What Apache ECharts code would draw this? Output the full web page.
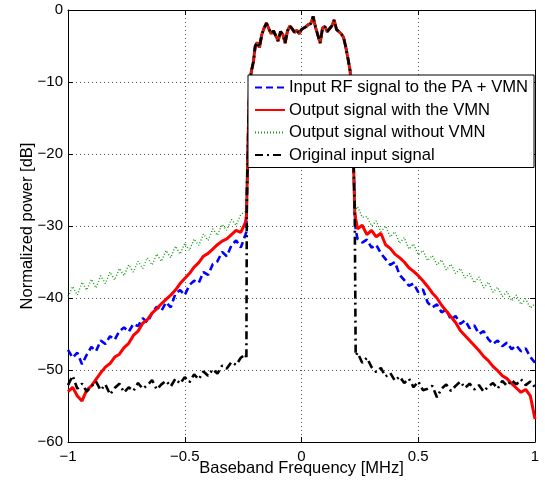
<!DOCTYPE html>
<html>
<head>
<meta charset="utf-8">
<script src="https://cdn.jsdelivr.net/npm/echarts@6/dist/echarts.min.js"></script>
<style>
html,body{margin:0;padding:0;background:#fff;}
#chart{width:545px;height:487px;}
</style>
</head>
<body>
<div id="chart"></div>
<script>
// Frequency grid (MHz)
var freqLeft = [-1.00,-0.98,-0.96,-0.94,-0.92,-0.90,-0.88,-0.86,-0.84,-0.82,-0.80,-0.78,-0.76,-0.74,-0.72,-0.70,-0.68,-0.66,-0.64,-0.62,-0.60,-0.58,-0.56,-0.54,-0.52,-0.50,-0.48,-0.46,-0.44,-0.42,-0.40,-0.38,-0.36,-0.34,-0.32,-0.30,-0.28,-0.26,-0.24,-0.236];
var freqIn = [-0.234,-0.228,-0.222,-0.214,-0.206,-0.198,-0.19,-0.18,-0.17,-0.16,-0.15,-0.14,-0.13,-0.12,-0.11,-0.10,-0.09,-0.08,-0.07,-0.06,-0.05,-0.04,-0.03,-0.02,-0.01,0.00,0.01,0.02,0.03,0.04,0.05,0.06,0.07,0.08,0.09,0.10,0.11,0.12,0.13,0.14,0.15,0.16,0.17,0.18,0.19,0.20,0.208,0.216,0.222,0.228];
var freqRight = [0.232,0.24,0.26,0.28,0.30,0.32,0.34,0.36,0.38,0.40,0.42,0.44,0.46,0.48,0.50,0.52,0.54,0.56,0.58,0.60,0.62,0.64,0.66,0.68,0.70,0.72,0.74,0.76,0.78,0.80,0.82,0.84,0.86,0.88,0.90,0.92,0.94,0.96,0.98,1.00];

// In-band spectrum (shared by all signals, dB)
var inBand = [-26,-17,-10,-8.4,-7.2,-5.0,-4.5,-5.2,-3.4,-2.5,-1.8,-2.6,-3.3,-2.9,-3.6,-4.3,-3.0,-3.4,-4.6,-2.9,-2.2,-2.6,-3.1,-2.8,-3.3,-2.7,-2.5,-2.3,-2.0,-1.9,-0.9,-2.4,-3.5,-4.6,-2.5,-2.3,-3.0,-2.6,-2.2,-1.4,-2.7,-3.0,-3.3,-3.8,-5.2,-6.9,-8.4,-12,-20,-28];

// Input RF signal to the PA + VMN
var blueLeft = [-47.2,-48.3,-47.6,-49.2,-47.9,-46.8,-47.4,-45.9,-46.4,-45.3,-45.8,-44.6,-44.1,-44.7,-43.6,-43.9,-42.8,-43.4,-42.1,-41.2,-41.8,-40.6,-41.3,-39.4,-38.9,-39.6,-38.2,-37.6,-37.9,-36.4,-36.8,-35.3,-34.9,-33.6,-34.2,-32.7,-32.0,-33.0,-31.2,-30.8];
var blueRight = [-30.5,-31.8,-32.3,-31.9,-33.0,-32.6,-33.8,-34.6,-35.4,-35.0,-36.8,-37.5,-38.3,-38.0,-39.2,-38.8,-40.6,-41.3,-40.9,-42.0,-41.6,-43.0,-42.5,-43.6,-43.1,-44.2,-43.8,-45.0,-44.6,-45.7,-46.4,-45.9,-46.7,-46.2,-47.1,-46.6,-47.4,-47.0,-48.2,-49.0];

// Output signal with the VMN
var redLeft = [-53.0,-52.4,-53.6,-54.3,-52.8,-52.2,-51.3,-50.4,-49.6,-49.1,-48.2,-47.8,-46.9,-46.3,-45.2,-44.6,-43.5,-43.0,-42.1,-41.5,-40.8,-40.2,-39.6,-38.9,-38.0,-37.3,-36.6,-35.7,-35.1,-34.2,-33.8,-33.2,-32.6,-32.1,-31.8,-31.2,-30.6,-30.9,-29.5,-28.6];
var redRight = [-29.0,-30.4,-29.9,-31.2,-30.6,-31.5,-31.0,-32.6,-33.1,-33.9,-34.4,-35.0,-35.8,-36.3,-36.9,-37.6,-38.4,-39.3,-40.0,-41.0,-41.8,-42.6,-43.4,-44.5,-45.2,-45.9,-46.6,-47.3,-48.1,-48.7,-49.5,-50.1,-50.8,-51.2,-51.9,-52.5,-53.1,-52.7,-53.6,-56.8];

// Output signal without VMN
var greenLeft = [-39.8,-38.4,-39.6,-37.8,-38.9,-37.4,-38.6,-36.9,-38.0,-36.4,-37.5,-35.9,-36.9,-35.4,-36.4,-34.9,-35.9,-34.4,-35.4,-33.9,-34.9,-33.4,-34.4,-32.8,-33.9,-32.4,-33.4,-31.8,-32.7,-31.1,-32.0,-30.4,-31.3,-29.8,-30.6,-29.1,-29.9,-28.4,-28.0,-28.3];
var greenRight = [-28.0,-27.3,-28.8,-28.7,-30.0,-29.3,-30.8,-30.0,-31.5,-30.8,-32.4,-31.6,-33.2,-32.5,-34.0,-33.4,-34.8,-34.1,-35.4,-34.7,-36.1,-35.3,-36.6,-35.9,-37.2,-36.6,-37.9,-37.1,-38.6,-37.8,-39.2,-38.5,-39.8,-39.1,-40.4,-39.6,-40.9,-40.1,-41.4,-40.8];

// Original input signal
var blackLeft = [-52.1,-50.8,-52.6,-51.9,-53.0,-52.3,-51.6,-52.8,-52.0,-53.4,-52.5,-51.9,-53.1,-52.4,-52.9,-51.8,-52.6,-52.1,-51.4,-52.7,-52.0,-51.5,-52.3,-51.2,-51.9,-51.0,-51.7,-50.6,-51.3,-50.2,-50.8,-49.9,-50.5,-49.4,-49.8,-48.9,-49.3,-48.3,-47.8,-48.5];
var blackRight = [-48.0,-47.6,-49.0,-48.3,-49.6,-50.3,-49.7,-50.9,-50.4,-51.5,-50.9,-51.8,-51.2,-52.4,-51.6,-52.8,-52.6,-52.2,-53.8,-52.6,-52.0,-52.9,-52.2,-51.6,-52.5,-51.9,-52.7,-52.1,-53.0,-52.3,-51.8,-52.6,-51.5,-52.2,-51.4,-52.0,-51.3,-52.1,-51.6,-52.4];

var seriesNames = ['Input RF signal to the PA + VMN','Output signal with the VMN','Output signal without VMN','Original input signal'];
var xTicks = [-1,-0.5,0,0.5,1];
var yTicks = [-60,-50,-40,-30,-20,-10,0];

var freq = freqLeft.concat(freqIn, freqRight);
function build(left, right) {
  var v = left.concat(inBand, right);
  return freq.map(function (x, i) { return [x, v[i]]; });
}
function fmt(v) { return String(v).replace('-', '\u2212'); }

var font = 'Liberation Sans, Arial, Helvetica, sans-serif';
var chart = echarts.init(document.getElementById('chart'), null, {renderer: 'canvas'});
var gridLine = {show: true, lineStyle: {color: '#555', type: [1, 3], width: 1}};
var axisLineS = {show: true, onZero: false, lineStyle: {color: '#000', width: 1}};
var tickS = {show: true, inside: true, length: 5, lineStyle: {color: '#000'}};

chart.setOption({
  animation: false,
  backgroundColor: '#fff',
  grid: {left: 68, top: 10, right: 10, bottom: 45, containLabel: false},
  legend: {
    show: true,
    z: 20,
    orient: 'vertical',
    left: 248,
    top: 75,
    padding: [4, 6, 4, 6],
    itemGap: 5.5,
    itemWidth: 30,
    itemHeight: 16,
    backgroundColor: '#fff',
    borderColor: '#000',
    borderWidth: 1,
    borderRadius: 0,
    itemStyle: {opacity: 0, borderWidth: 0},
    textStyle: {fontFamily: font, fontSize: 16.6, color: '#000', padding: [0, 0, 0, -1]},
    data: seriesNames
  },
  xAxis: [{
    type: 'value', min: -1, max: 1, interval: 0.5, position: 'bottom',
    name: 'Baseband Frequency [MHz]', nameLocation: 'middle', nameGap: 18, nameMoveOverlap: false,
    nameTextStyle: {fontFamily: font, fontSize: 16.5, color: '#000'},
    axisLine: axisLineS, axisTick: tickS, splitLine: gridLine,
    axisLabel: {fontFamily: font, fontSize: 15, color: '#000', margin: 7, formatter: fmt}
  }, {
    type: 'value', min: -1, max: 1, interval: 0.5, position: 'top',
    axisLine: axisLineS, axisTick: tickS, splitLine: {show: false}, axisLabel: {show: false}
  }],
  yAxis: [{
    type: 'value', min: -60, max: 0, interval: 10, position: 'left',
    name: 'Normalized power [dB]', nameLocation: 'middle', nameGap: 32, nameMoveOverlap: false,
    nameTextStyle: {fontFamily: font, fontSize: 16.5, color: '#000'},
    axisLine: axisLineS, axisTick: tickS, splitLine: gridLine,
    axisLabel: {fontFamily: font, fontSize: 15, color: '#000', margin: 5, formatter: fmt}
  }, {
    type: 'value', min: -60, max: 0, interval: 10, position: 'right',
    axisLine: axisLineS, axisTick: tickS, splitLine: {show: false}, axisLabel: {show: false}
  }],
  series: [
    {name: seriesNames[0], type: 'line', data: build(blueLeft, blueRight), symbol: 'none', z: 2,
     lineStyle: {color: '#0000ff', width: 2.6, type: [7, 4]}, itemStyle: {color: '#0000ff'}},
    {name: seriesNames[1], type: 'line', data: build(redLeft, redRight), symbol: 'none', z: 3,
     lineStyle: {color: '#ff0000', width: 3, type: 'solid'}, itemStyle: {color: '#ff0000'}},
    {name: seriesNames[2], type: 'line', data: build(greenLeft, greenRight), symbol: 'none', z: 4,
     lineStyle: {color: '#119911', width: 1.4, type: [1, 2]}, itemStyle: {color: '#119911'}},
    {name: seriesNames[3], type: 'line', data: build(blackLeft, blackRight), symbol: 'none', z: 5,
     lineStyle: {color: '#000000', width: 2.6, type: [8, 4, 2, 4]}, itemStyle: {color: '#000000'}}
  ]
});
</script>
</body>
</html>
